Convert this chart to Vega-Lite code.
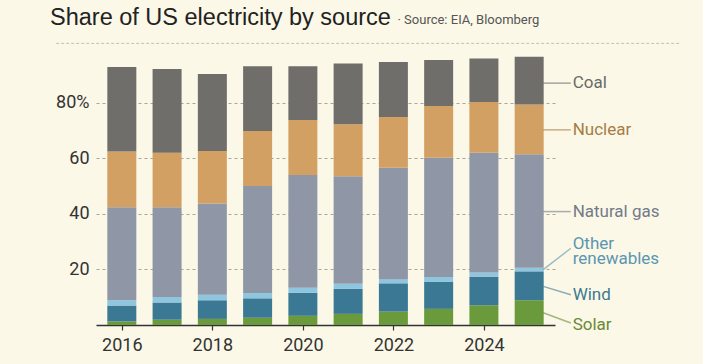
{
  "$schema": "https://vega.github.io/schema/vega-lite/v6.json",
  "autosize": "none",
  "width": 459,
  "height": 278,
  "padding": {"left": 96, "top": 47, "right": 148, "bottom": 39},
  "background": "#fbf8e7",
  "config": {"view": {"stroke": null}, "font": "Roboto"},
  "title": {
    "text": "Share of US electricity by source",
    "font": "Liberation Sans",
    "fontSize": 23.5,
    "fontWeight": "normal",
    "color": "#222222",
    "anchor": "start",
    "frame": "group",
    "dx": -46,
    "offset": -16
  },
  "datasets": {
    "shares": [
      {"year": 2016, "source": "Solar", "value": 1.3},
      {"year": 2016, "source": "Wind", "value": 5.7},
      {"year": 2016, "source": "Other renewables", "value": 1.9},
      {"year": 2016, "source": "Natural gas", "value": 33.5},
      {"year": 2016, "source": "Nuclear", "value": 20.0},
      {"year": 2016, "source": "Coal", "value": 30.4},
      {"year": 2017, "source": "Solar", "value": 1.9},
      {"year": 2017, "source": "Wind", "value": 6.2},
      {"year": 2017, "source": "Other renewables", "value": 2.0},
      {"year": 2017, "source": "Natural gas", "value": 32.3},
      {"year": 2017, "source": "Nuclear", "value": 19.6},
      {"year": 2017, "source": "Coal", "value": 30.1},
      {"year": 2018, "source": "Solar", "value": 2.2},
      {"year": 2018, "source": "Wind", "value": 6.7},
      {"year": 2018, "source": "Other renewables", "value": 2.0},
      {"year": 2018, "source": "Natural gas", "value": 32.8},
      {"year": 2018, "source": "Nuclear", "value": 18.9},
      {"year": 2018, "source": "Coal", "value": 27.7},
      {"year": 2019, "source": "Solar", "value": 2.6},
      {"year": 2019, "source": "Wind", "value": 7.0},
      {"year": 2019, "source": "Other renewables", "value": 1.9},
      {"year": 2019, "source": "Natural gas", "value": 38.5},
      {"year": 2019, "source": "Nuclear", "value": 19.8},
      {"year": 2019, "source": "Coal", "value": 23.3},
      {"year": 2020, "source": "Solar", "value": 3.3},
      {"year": 2020, "source": "Wind", "value": 8.3},
      {"year": 2020, "source": "Other renewables", "value": 1.8},
      {"year": 2020, "source": "Natural gas", "value": 40.6},
      {"year": 2020, "source": "Nuclear", "value": 19.7},
      {"year": 2020, "source": "Coal", "value": 19.4},
      {"year": 2021, "source": "Solar", "value": 4.0},
      {"year": 2021, "source": "Wind", "value": 9.0},
      {"year": 2021, "source": "Other renewables", "value": 1.8},
      {"year": 2021, "source": "Natural gas", "value": 38.7},
      {"year": 2021, "source": "Nuclear", "value": 18.7},
      {"year": 2021, "source": "Coal", "value": 21.9},
      {"year": 2022, "source": "Solar", "value": 4.8},
      {"year": 2022, "source": "Wind", "value": 10.2},
      {"year": 2022, "source": "Other renewables", "value": 1.5},
      {"year": 2022, "source": "Natural gas", "value": 40.1},
      {"year": 2022, "source": "Nuclear", "value": 18.2},
      {"year": 2022, "source": "Coal", "value": 19.8},
      {"year": 2023, "source": "Solar", "value": 5.8},
      {"year": 2023, "source": "Wind", "value": 9.8},
      {"year": 2023, "source": "Other renewables", "value": 1.7},
      {"year": 2023, "source": "Natural gas", "value": 42.9},
      {"year": 2023, "source": "Nuclear", "value": 18.6},
      {"year": 2023, "source": "Coal", "value": 16.5},
      {"year": 2024, "source": "Solar", "value": 7.1},
      {"year": 2024, "source": "Wind", "value": 10.3},
      {"year": 2024, "source": "Other renewables", "value": 1.5},
      {"year": 2024, "source": "Natural gas", "value": 43.1},
      {"year": 2024, "source": "Nuclear", "value": 18.2},
      {"year": 2024, "source": "Coal", "value": 15.7},
      {"year": 2025, "source": "Solar", "value": 8.9},
      {"year": 2025, "source": "Wind", "value": 10.4},
      {"year": 2025, "source": "Other renewables", "value": 1.3},
      {"year": 2025, "source": "Natural gas", "value": 40.8},
      {"year": 2025, "source": "Nuclear", "value": 17.9},
      {"year": 2025, "source": "Coal", "value": 17.2}
    ],
    "labels": [
      {"source": "Coal", "label": "Coal", "lead_from": 87.0, "lead_to": 87.0, "label_at": 87.0},
      {"source": "Nuclear", "label": "Nuclear", "lead_from": 70.2, "lead_to": 70.2, "label_at": 70.2},
      {"source": "Natural gas", "label": "Natural gas", "lead_from": 40.8, "lead_to": 40.8, "label_at": 40.8},
      {"source": "Other renewables", "label": "Other\nrenewables", "lead_from": 19.9, "lead_to": 27.6, "label_at": 29.1},
      {"source": "Wind", "label": "Wind", "lead_from": 13.9, "lead_to": 10.9, "label_at": 10.9},
      {"source": "Solar", "label": "Solar", "lead_from": 4.4, "lead_to": 0.7, "label_at": 0.0}
    ]
  },
  "layer": [
    {
      "data": {"values": [{}]},
      "mark": {"type": "rule", "stroke": "#c9c1ad", "strokeWidth": 1, "strokeDash": [3, 2]},
      "encoding": {
        "x": {"datum": 2014.55, "type": "quantitative"},
        "x2": {"datum": 2028.36},
        "y": {"datum": 101.3, "type": "quantitative"}
      }
    },
    {
      "data": {"values": [{}]},
      "mark": {"type": "text", "font": "Roboto", "fontSize": 13, "color": "#555555", "align": "left", "baseline": "alphabetic"},
      "encoding": {
        "x": {"datum": 2022.09, "type": "quantitative"},
        "y": {"datum": 108.4, "type": "quantitative"},
        "text": {"value": "· Source: EIA, Bloomberg"}
      }
    },
    {
      "data": {"name": "shares"},
      "transform": [
        {"calculate": "indexof(['Solar','Wind','Other renewables','Natural gas','Nuclear','Coal'], datum.source)", "as": "stack_rank"}
      ],
      "mark": {"type": "bar", "width": 29},
      "encoding": {
        "x": {
          "field": "year",
          "type": "quantitative",
          "scale": {"domain": [2015.54, 2025.46], "nice": false, "zero": false},
          "axis": {
            "values": [2016, 2018, 2020, 2022, 2024],
            "format": "d",
            "title": null,
            "grid": false,
            "domainColor": "#333333",
            "domainWidth": 1.5,
            "tickColor": "#333333",
            "tickSize": 5,
            "tickWidth": 1.2,
            "labelFont": "Roboto",
            "labelFontSize": 18,
            "labelColor": "#333333",
            "labelPadding": 6
          }
        },
        "y": {
          "field": "value",
          "type": "quantitative",
          "stack": "zero",
          "scale": {"domain": [0, 100], "nice": false},
          "axis": {
            "values": [20, 40, 60, 80],
            "labelExpr": "datum.value == 80 ? '80%' : datum.label",
            "title": null,
            "domain": false,
            "ticks": false,
            "grid": true,
            "gridColor": "#aaa59a",
            "gridDash": [3, 3],
            "gridWidth": 1,
            "labelFont": "Roboto",
            "labelFontSize": 18,
            "labelColor": "#333333",
            "labelPadding": 7
          }
        },
        "color": {
          "field": "source",
          "type": "nominal",
          "scale": {
            "domain": ["Coal", "Nuclear", "Natural gas", "Other renewables", "Wind", "Solar"],
            "range": ["#6f6e6b", "#d3a063", "#8f96a6", "#8ec5df", "#3a7894", "#6a9a3b"]
          },
          "legend": null
        },
        "order": {"field": "stack_rank", "type": "quantitative"}
      }
    },
    {
      "data": {"name": "labels"},
      "encoding": {
        "color": {
          "field": "source",
          "type": "nominal",
          "scale": {
            "domain": ["Coal", "Nuclear", "Natural gas", "Other renewables", "Wind", "Solar"],
            "range": ["#6b6a66", "#a77c45", "#747a8a", "#5a96b2", "#3f7892", "#6a8a35"]
          },
          "legend": null
        }
      },
      "layer": [
        {
          "mark": {"type": "rule", "strokeWidth": 1.5, "opacity": 0.6},
          "encoding": {
            "x": {"datum": 2025.31, "type": "quantitative"},
            "x2": {"datum": 2025.92},
            "y": {"field": "lead_from", "type": "quantitative"},
            "y2": {"field": "lead_to"}
          }
        },
        {
          "mark": {"type": "text", "align": "left", "baseline": "middle", "font": "Roboto", "fontSize": 17, "lineBreak": "\n", "lineHeight": 15},
          "encoding": {
            "x": {"datum": 2025.96, "type": "quantitative"},
            "y": {"field": "label_at", "type": "quantitative"},
            "text": {"field": "label"}
          }
        }
      ]
    }
  ],
  "resolve": {"scale": {"color": "independent"}}
}
